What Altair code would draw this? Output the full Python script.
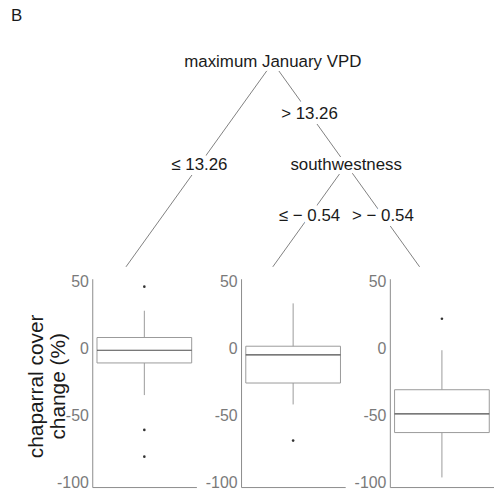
import altair as alt
import pandas as pd

FONT = "Liberation Sans"

# ---------------- data ----------------
leaf_ids = ["Node 3", "Node 5", "Node 6"]
whisker_low = [-35, -42, -96.5]
box_q1 = [-11, -26, -63]
box_median = [-1.5, -5, -49]
box_q3 = [8, 1.5, -31]
whisker_high = [28, 33.5, -1.5]
outlier_values = [[46, -61, -81], [-69], [22]]

split_names = ["maximum January VPD", "southwestness"]
split_depth = [0, 1]
split_leaves = [[0, 1, 2], [1, 2]]
edge_parent = [0, 0, 1, 1]            # index into split_names
edge_child = [("leaf", 0), ("split", 1), ("leaf", 1), ("leaf", 2)]
edge_labels = ["≤ 13.26", "> 13.26", "≤ − 0.54", "> − 0.54"]

y_ticks = [-100, -50, 0, 50]
y_title = ["chaparral cover", "change (%)"]

# ---------------- tree tables ----------------
leaf_depth = max(split_depth) + 1
split_x = [sum(l) / len(l) for l in split_leaves]


def node_pos(kind, i):
    if kind == "leaf":
        return float(i), float(leaf_depth)
    return split_x[i], float(split_depth[i])


edge_rows = []
for p, (kind, c), lab in zip(edge_parent, edge_child, edge_labels):
    px, py = split_x[p], float(split_depth[p])
    cx, cy = node_pos(kind, c)
    edge_rows.append({"x": px, "y": py, "x2": cx, "y2": cy,
                      "mx": (px + cx) / 2, "my": (py + cy) / 2, "label": lab})
edges_df = pd.DataFrame(edge_rows)
nodes_df = pd.DataFrame({"x": split_x, "y": [float(d) for d in split_depth],
                         "name": split_names})

# ---------------- tree chart ----------------
TREE_W, TREE_H = 401, 244
xs = alt.Scale(domain=[-0.2297, 2.4797], nice=False, zero=False)
ys = alt.Scale(domain=[-0.3689, 2.0], reverse=True, nice=False, zero=False)

base_e = alt.Chart(edges_df)
rules = base_e.mark_rule(color="#808080", strokeWidth=1).encode(
    x=alt.X("x:Q", scale=xs, axis=None),
    y=alt.Y("y:Q", scale=ys, axis=None),
    x2="x2:Q", y2="y2:Q")
elab_halo = base_e.mark_text(font=FONT, fontSize=17, fill="white",
                             stroke="white", strokeWidth=10).encode(
    x=alt.X("mx:Q", scale=xs, axis=None),
    y=alt.Y("my:Q", scale=ys, axis=None), text="label:N")
elab = base_e.mark_text(font=FONT, fontSize=17, color="#1a1a1a").encode(
    x=alt.X("mx:Q", scale=xs, axis=None),
    y=alt.Y("my:Q", scale=ys, axis=None), text="label:N")
base_n = alt.Chart(nodes_df)
nlab_halo = base_n.mark_text(font=FONT, fontSize=17, fill="white",
                             stroke="white", strokeWidth=8).encode(
    x=alt.X("x:Q", scale=xs, axis=None),
    y=alt.Y("y:Q", scale=ys, axis=None), text="name:N")
nlab = base_n.mark_text(font=FONT, fontSize=17, color="#1a1a1a").encode(
    x=alt.X("x:Q", scale=xs, axis=None),
    y=alt.Y("y:Q", scale=ys, axis=None), text="name:N")

tree = alt.layer(rules, elab_halo, elab, nlab_halo, nlab).properties(
    width=TREE_W, height=TREE_H,
    title=alt.TitleParams("B", anchor="start", frame="group", fontSize=17,
                          font=FONT, fontWeight="normal", color="#1a1a1a",
                          dx=-82, offset=0))

# ---------------- box panels ----------------
PANEL_W, PANEL_H = 105, 210


def panel(i, show_title):
    box_df = pd.DataFrame({"leaf": [leaf_ids[i]], "lo": [whisker_low[i]],
                           "q1": [box_q1[i]], "med": [box_median[i]],
                           "q3": [box_q3[i]], "hi": [whisker_high[i]]})
    out_df = pd.DataFrame({"leaf": [leaf_ids[i]] * len(outlier_values[i]),
                           "v": outlier_values[i]})
    xenc = alt.X("leaf:N",
                 scale=alt.Scale(paddingOuter=0.05, paddingInner=0),
                 axis=alt.Axis(labels=False, ticks=False, title=None,
                               domainColor="#8c8c8c", grid=False))
    axis_kw = dict(values=y_ticks, ticks=False, grid=False,
                   domainColor="#8c8c8c", labelFont=FONT, labelFontSize=16,
                   labelColor="#7a7a7a", labelPadding=4,
                   labelExpr="'' + datum.value")
    if show_title:
        yaxis = alt.Axis(title=y_title, titleFont=FONT, titleFontSize=21,
                         titleFontWeight="normal", titleColor="#1a1a1a",
                         titleX=-67, titleY=108, titleAlign="center",
                         titleBaseline="top", titleAngle=270,
                         titleLineHeight=22, **axis_kw)
    else:
        yaxis = alt.Axis(title=None, **axis_kw)
    yscale = alt.Scale(domain=[-103.7, 51.9], nice=False, zero=False)

    b = alt.Chart(box_df)
    whisk = b.mark_rule(color="#9a9a9a", strokeWidth=1).encode(
        x=xenc, y=alt.Y("lo:Q", scale=yscale, axis=yaxis), y2="hi:Q")
    box = b.mark_bar(fill="white", stroke="#9a9a9a", strokeWidth=1).encode(
        x=xenc, y=alt.Y("q1:Q", scale=yscale, axis=yaxis), y2="q3:Q")
    medl = b.mark_bar(fill="white", stroke="#4d4d4d", strokeWidth=1.2).encode(
        x=xenc, y=alt.Y("med:Q", scale=yscale, axis=yaxis), y2="med:Q")
    outs = alt.Chart(out_df).mark_circle(color="#333333", size=7,
                                         opacity=1).encode(
        x=xenc, y=alt.Y("v:Q", scale=yscale, axis=yaxis))
    return alt.layer(whisk, box, medl, outs).properties(
        width=PANEL_W, height=PANEL_H)


panels = alt.hconcat(panel(0, True), panel(1, False), panel(2, False),
                     spacing=8)

chart = alt.vconcat(tree, panels, spacing=5).properties(
    padding={"left": 11, "top": 5, "right": 0, "bottom": 0}
).configure(background="white").configure_view(stroke="transparent",
                                               strokeWidth=0)

chart.save("out.html", embed_options={"renderer": "svg", "actions": False})
